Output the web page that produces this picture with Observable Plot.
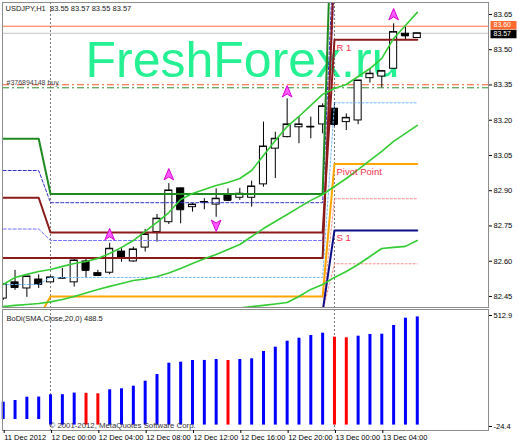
<!DOCTYPE html>
<html><head><meta charset="utf-8">
<script src="https://cdn.jsdelivr.net/npm/d3@7"></script>
<script src="https://cdn.jsdelivr.net/npm/@observablehq/plot@0.6"></script>
<style>
body{margin:0;background:#fff;}
#wrap{position:relative;width:518px;height:444px;overflow:hidden;background:#fff;}
#main{position:absolute;left:0;top:0;}
#ind{position:absolute;left:0;top:307px;}
</style></head><body><div id="wrap"><div id="main"></div><div id="ind"></div></div>
<script>
// ---------- DATA ----------
const symbolName = "USDJPY,H1";
const open  = [82.441,82.510,82.484,82.522,82.510,82.527,82.510,82.599,82.549,82.551,82.641,82.599,82.658,82.724,82.766,82.910,82.830,82.851,82.841,82.883,82.870,82.870,82.927,83.079,83.128,83.170,83.170,83.182,83.249,83.192,83.199,83.379,83.386,83.419,83.568,83.55];
const high  = [82.505,82.561,82.535,82.542,82.536,82.569,82.607,82.612,82.561,82.676,82.653,82.660,82.735,82.799,82.930,82.912,82.846,82.866,82.908,82.908,82.910,82.941,83.192,83.149,83.291,83.213,83.213,83.270,83.275,83.227,83.369,83.419,83.409,83.610,83.596,83.57];
const low   = [82.433,82.476,82.446,82.484,82.510,82.524,82.490,82.528,82.539,82.542,82.596,82.595,82.639,82.681,82.756,82.759,82.809,82.819,82.787,82.854,82.859,82.830,82.915,82.952,83.125,83.100,83.121,83.142,83.173,83.156,83.181,83.358,83.338,83.419,83.539,83.55];
const close = [82.501,82.488,82.535,82.501,82.531,82.528,82.603,82.561,82.539,82.653,82.615,82.650,82.714,82.781,82.901,82.819,82.841,82.852,82.866,82.859,82.887,82.918,83.088,83.121,83.182,83.182,83.172,83.259,83.182,83.210,83.369,83.398,83.409,83.575,83.559,83.57];

const bbUpper  = [82.501,82.531,82.544,82.556,82.565,82.578,82.590,82.599,82.612,82.633,82.659,82.688,82.727,82.765,82.807,82.863,82.888,82.905,82.922,82.935,82.952,82.986,83.050,83.114,83.173,83.216,83.263,83.310,83.335,83.352,83.386,83.420,83.463,83.548,83.603,83.659];
const bbMiddle = [82.407,82.412,82.416,82.420,82.427,82.437,82.450,82.465,82.480,82.493,82.505,82.518,82.524,82.535,82.550,82.569,82.590,82.610,82.629,82.650,82.671,82.705,82.739,82.769,82.799,82.829,82.859,82.884,82.918,82.952,82.990,83.029,83.067,83.110,83.144,83.178];
const bbLower  = [82.31,82.29,82.29,82.28,82.29,82.30,82.31,82.32,82.34,82.35,82.35,82.35,82.32,82.30,82.29,82.28,82.29,82.31,82.34,82.39,82.401,82.407,82.412,82.418,82.424,82.450,82.480,82.501,82.531,82.556,82.586,82.620,82.654,82.659,82.663,82.688];

// daily levels: [11 Dec, 12 Dec, 13 Dec]
const dayFirstBar = [0, 4, 28];
const levelGreen      = [83.121, 82.886, 84.45];
const levelR1         = [82.870, 82.722, 83.542];
const levelMaroon2    = [82.614, 82.614, 83.89];
const levelPivot      = [82.36, 82.450, 83.014];
const levelS1         = [82.38, 82.385, 82.731];
const levelBlueDash   = [82.986, 82.849, 84.0];
const levelVioletDash = [82.737, 82.688, 83.78];
const levelSkyDot     = [82.501, 82.531, 83.274];
const levelPinkDot1   = [82.38, 82.39, 82.866];
const levelPinkDot2   = [82.37, 82.385, 82.589];
const pivotLabels = ["R 1", "Pivot Point", "S 1"];

const fractalUpBars = [9, 14, 24, 33];
const fractalUpPrice = [82.714, 82.969, 83.322, 83.650];
const fractalDownBars = [18];
const fractalDownPrice = [82.752];

const askPrice = 83.60, bidPrice = 83.57;
const tradeBuy = 83.351, tradeTarget = 83.338;
const tradeLabel = "#376894148 buy";
const watermark = "FreshForex.ru";

const bodi = [103.4,111.1,126.0,126.5,136.8,137.3,144.5,143.5,141.3,159.4,163.9,175.6,198.2,228.4,279.5,284.0,291.7,292.0,296.2,291.7,296.2,299.3,332.3,351.7,378.8,392.3,404.5,414.9,396.9,394.1,401.4,409.0,410.4,449.7,482.6,488.5];
const bodiBase = [25,25,25,25,0,0,0,0,0,0,0,0,0,0,0,0,0,0,0,0,0,0,0,0,0,0,0,0,0,0,0,0,0,0,0,0];
const bodiName = "BoDi(SMA,Close,20,0)";
const bodiTicks = [512.9, -24.4];
const copyright = "\u00a9 2001-2012, MetaQuotes Software Corp.";

const priceTicks = [83.65, 83.50, 83.35, 83.20, 83.05, 82.90, 82.75, 82.60, 82.45];
const timeTickBars = [0, 4, 8, 12, 16, 20, 24, 28, 32];
const timeTickLabels = ["11 Dec 2012","12 Dec 00:00","12 Dec 04:00","12 Dec 08:00","12 Dec 12:00","12 Dec 16:00","12 Dec 20:00","13 Dec 00:00","13 Dec 04:00"];

// ---------- BUILD ----------
const FONT = "'Liberation Sans', Arial, sans-serif";
const xDomain = [-0.06, 41.02];
const bars = open.map((o, i) => ({i, o, h: high[i], l: low[i], c: close[i], up: close[i] >= open[i]}));
const dayOf = i => i >= dayFirstBar[2] ? 2 : i >= dayFirstBar[1] ? 1 : 0;

const levelStyles = [
  [levelPinkDot1, "#ff8c8c", 1, "2,2"],
  [levelPinkDot2, "#ff8c8c", 1, "2,2"],
  [levelSkyDot, "#6fb7ff", 1, "2,2"],
  [levelVioletDash, "#6f6fff", 1, "3,2"],
  [levelBlueDash, "#3030c8", 1, "3,2"],
  [levelGreen, "#1f8a1f", 2, null],
  [levelMaroon2, "#8b1a1a", 2, null],
  [levelR1, "#8b1a1a", 2, null],
  [levelPivot, "#ffa500", 2, null],
  [levelS1, "#0c0c88", 2, null]
];
const levelMarks = levelStyles.map(([lv, col, w, dash]) =>
  Plot.line(bars.map(b => ({i: b.i, v: lv[dayOf(b.i)]})), {
    x: "i", y: "v", stroke: col, strokeWidth: w, strokeDasharray: dash, clip: true
  }));

const bbMarks = [bbUpper, bbMiddle, bbLower].map(arr =>
  Plot.line(arr.map((v, i) => ({i, v})), {x: "i", y: "v", stroke: "#33cc33", strokeWidth: 1.6, clip: true}));

function arrowSym(dir) {
  return {draw(ctx, size) {
    const s = Math.sqrt(size / Math.PI);
    ctx.moveTo(0, -dir * s);
    ctx.lineTo(0.8 * s, dir * 0.9 * s);
    ctx.lineTo(0, dir * 0.4 * s);
    ctx.lineTo(-0.8 * s, dir * 0.9 * s);
    ctx.closePath();
  }};
}
const boxSym = {draw(ctx, size) { ctx.rect(-13, -4.2, 26, 8.4); }};

const upArrows = fractalUpBars.map((i, k) => ({i, v: fractalUpPrice[k]}));
const downArrows = fractalDownBars.map((i, k) => ({i, v: fractalDownPrice[k]}));
const title = `${symbolName}  ${[open[35], high[35], low[35], close[35]].map(v => v.toFixed(2)).join(" ")}`;

const mainChart = Plot.plot({
  width: 518, height: 308,
  marginLeft: 2, marginRight: 30, marginTop: 2, marginBottom: 1,
  x: {domain: xDomain, axis: null, label: null},
  y: {domain: [82.403, 83.701], axis: null, label: null},
  style: {fontFamily: FONT, fontSize: "7.5px", color: "#000", background: "transparent", overflow: "visible"},
  marks: [
    Plot.text([watermark], {frameAnchor: "top-left", dx: 83, dy: 38.5, lineAnchor: "top", fontSize: 50, fill: "#26f192"}),
    Plot.ruleY([askPrice], {stroke: "#ff6d3d", strokeWidth: 1}),
    Plot.ruleY([bidPrice], {stroke: "#c4c4c4", strokeWidth: 1}),
    Plot.ruleY([tradeBuy], {stroke: "#ff5a2a", strokeWidth: 1, strokeDasharray: "7,3,2,3"}),
    Plot.ruleY([tradeTarget], {stroke: "#2e8b2e", strokeWidth: 1, strokeDasharray: "7,3,2,3"}),
    Plot.text([tradeLabel], {y: tradeBuy, frameAnchor: "left", dx: 4, dy: 0, lineAnchor: "bottom", fontSize: 7, fill: "#444"}),
    Plot.ruleX(dayFirstBar.slice(1), {stroke: "#777", strokeDasharray: "2,2", strokeWidth: 1}),
    Plot.ruleX(bars, {x: "i", y1: "l", y2: "h", stroke: "#000", strokeWidth: 1, clip: true}),
    Plot.rect(bars, {x1: d => d.i - 0.3, x2: d => d.i + 0.3, y1: "o", y2: "c", fill: d => d.up ? "#fff" : "#000", stroke: "#000", strokeWidth: 1, clip: true}),
    Plot.ruleY(bars, {x1: d => d.i - 0.3, x2: d => d.i + 0.3, y: "c", stroke: "#000", clip: true}),
    ...levelMarks,
    ...bbMarks,
    Plot.text(pivotLabels, {x: dayFirstBar[2], y: (d, k) => [levelR1[2], levelPivot[2], levelS1[2]][k], textAnchor: "start", dx: 2, dy: 8, fill: "#f0304a", fontSize: 9.5}),
    Plot.dot(upArrows, {x: "i", y: "v", symbol: arrowSym(1), r: 6, fill: "#ff5cff", stroke: "#d800d8", strokeWidth: 1}),
    Plot.dot(downArrows, {x: "i", y: "v", symbol: arrowSym(-1), r: 6, fill: "#ff5cff", stroke: "#d800d8", strokeWidth: 1}),
    Plot.text([title], {frameAnchor: "top-left", dx: 3, dy: 3, lineAnchor: "top", fontSize: 7.5, fill: "#222"}),
    Plot.frame({stroke: "#8c8c8c"}),
    Plot.axisY(priceTicks, {anchor: "right", label: null, tickSize: 3, tickPadding: 2, tickFormat: d => d.toFixed(2), fontSize: 7.5, fill: "#000", stroke: "#000"}),
    Plot.dot([askPrice], {y: d => d, frameAnchor: "right", dx: 15, dy: -1, symbol: boxSym, r: 5, fill: "#ff6a30", stroke: "none"}),
    Plot.text([askPrice], {y: d => d, frameAnchor: "right", dx: 5, dy: -1, textAnchor: "start", text: d => d.toFixed(2), fill: "#fff", fontSize: 7}),
    Plot.dot([bidPrice], {y: d => d, frameAnchor: "right", dx: 15, dy: 0.8, symbol: boxSym, r: 5, fill: "#000", stroke: "none"}),
    Plot.text([bidPrice], {y: d => d, frameAnchor: "right", dx: 5, dy: 0.8, textAnchor: "start", text: d => d.toFixed(2), fill: "#fff", fontSize: 7})
  ]
});
document.getElementById("main").append(mainChart);

const bodiData = bodi.map((v, i) => ({i, v, base: bodiBase[i], color: i > 0 && v < bodi[i - 1] ? "#ff0000" : "#0000ff"}));
const indChart = Plot.plot({
  width: 518, height: 137,
  marginLeft: 2, marginRight: 30, marginTop: 2, marginBottom: 14,
  x: {domain: xDomain, axis: null, label: null},
  y: {domain: [-24.4, 521.9], axis: null, label: null},
  color: {type: "identity"},
  style: {fontFamily: FONT, fontSize: "7.5px", color: "#000", background: "transparent", overflow: "visible"},
  marks: [
    Plot.ruleX(dayFirstBar.slice(1), {stroke: "#777", strokeDasharray: "2,2", strokeWidth: 1}),
    Plot.ruleX(bodiData, {x: "i", y1: "base", y2: "v", stroke: "color", strokeWidth: 3}),
    Plot.text([`${bodiName} ${bodi[35]}`], {frameAnchor: "top-left", dx: 4, dy: 6, lineAnchor: "top", fontSize: 7.5, fill: "#222"}),
    Plot.text([copyright], {frameAnchor: "bottom-left", dx: 47, dy: -5.5, lineAnchor: "middle", fontSize: 7.8, fill: "#333"}),
    Plot.frame({stroke: "#8c8c8c"}),
    Plot.axisY([bodiTicks[0]], {anchor: "right", label: null, tickSize: 3, tickPadding: 2, dy: 4, fontSize: 7.5, fill: "#000", stroke: "#000", tickFormat: d => d.toFixed(1)}),
    Plot.axisY([bodiTicks[1]], {anchor: "right", label: null, tickSize: 3, tickPadding: 2, dy: -4, fontSize: 7.5, fill: "#000", stroke: "#000", tickFormat: d => d.toFixed(1)}),
    Plot.axisX(timeTickBars, {anchor: "bottom", label: null, tickSize: 3, tickPadding: 1, textAnchor: "start", dx: 1, fontSize: 7.5, fill: "#000", stroke: "#000", tickFormat: d => timeTickLabels[timeTickBars.indexOf(d)]})
  ]
});
document.getElementById("ind").append(indChart);
</script>
</body></html>
